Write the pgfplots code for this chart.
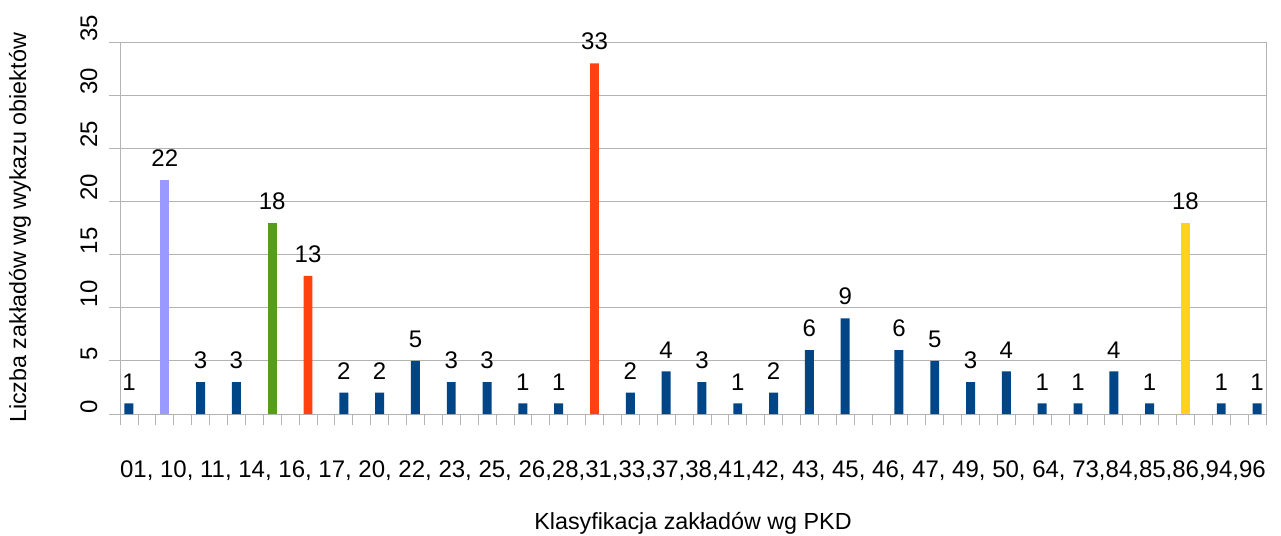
\documentclass[border=0pt]{standalone}
\usepackage{pgfplots}
\pgfplotsset{compat=1.18}
\usepackage{fontspec}
\setmainfont{Liberation Sans}
\definecolor{cblue}{HTML}{004586}
\definecolor{cpurple}{HTML}{9999FF}
\definecolor{cgreen}{HTML}{579D1C}
\definecolor{cred}{HTML}{FF420E}
\definecolor{cyellow}{HTML}{FFD320}
\definecolor{cgrid}{HTML}{B3B3B3}
\newcommand{\chartfont}{\fontsize{24bp}{28bp}\selectfont}
\newcommand{\labelfont}{\fontsize{23.3bp}{28bp}\selectfont}
\newcommand{\pkdtext}{01, 10, 11, 14, 16, 17, 20, 22, 23, 25, 26,28,31,33,37,38,41,42, 43, 45, 46, 47, 49, 50, 64, 73,84,85,86,94,96}
\begin{document}
\begin{tikzpicture}
\useasboundingbox (-120bp,-122bp) rectangle (1161bp,414bp);
\begin{axis}[
  scale only axis,
  width=1146bp, height=372bp,
  xmin=0, xmax=64, ymin=0, ymax=35,
  xtick={0,1,...,64}, xticklabels={},
  extra x ticks={32},
  extra x tick style={major tick length=0pt, xticklabel={\pkdtext}, xticklabel style={yshift=-43bp}},
  ytick={0,5,...,35},
  tick align=outside, tickpos=left,
  major tick length=11bp,
  tick style={cgrid, line width=0.8bp},
  axis line style={cgrid, line width=0.8bp},
  ymajorgrids, grid style={cgrid, line width=0.8bp},
  /pgf/number format/assume math mode=true,
  ticklabel style={font=\chartfont},
  yticklabel style={xshift=-8bp, yshift=-3bp, rotate=90, anchor=south west},
  xlabel={Klasyfikacja zakładów wg PKD},
  ylabel={Liczba zakładów wg wykazu obiektów},
  label style={font=\labelfont},
  xlabel style={at={(axis description cs:0.5,0)}, anchor=center, yshift=-109bp},
  ylabel style={at={(axis description cs:0,0.5)}, anchor=center, xshift=0bp, yshift=100bp},
  every node near coord/.append style={font=\chartfont, text=black, inner sep=4bp, yshift=9bp},
  clip=false,
]
\addplot[ybar, bar width=0.5, bar shift=0pt, fill=cblue, draw=none, nodes near coords] coordinates {
 (0.5,1) (4.5,3) (6.5,3) (12.5,2) (14.5,2) (16.5,5) (18.5,3) (20.5,3) (22.5,1) (24.5,1)
 (28.5,2) (30.5,4) (32.5,3) (34.5,1) (36.5,2) (38.5,6) (40.5,9)
 (43.5,6) (45.5,5) (47.5,3) (49.5,4) (51.5,1) (53.5,1) (55.5,4) (57.5,1) (61.5,1) (63.5,1)};
\addplot[ybar, bar width=0.5, bar shift=0pt, fill=cpurple, draw=none, nodes near coords] coordinates {(2.5,22)};
\addplot[ybar, bar width=0.5, bar shift=0pt, fill=cgreen, draw=none, nodes near coords] coordinates {(8.5,18)};
\addplot[ybar, bar width=0.5, bar shift=0pt, fill=cred, draw=none, nodes near coords] coordinates {(10.5,13) (26.5,33)};
\addplot[ybar, bar width=0.5, bar shift=0pt, fill=cyellow, draw=none, nodes near coords] coordinates {(59.5,18)};
\end{axis}
\end{tikzpicture}
\end{document}
